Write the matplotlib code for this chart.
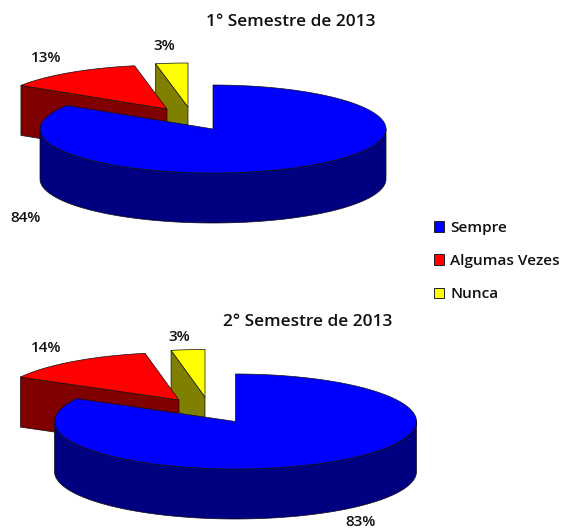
import numpy as np
import matplotlib
matplotlib.use("Agg")
import matplotlib.pyplot as plt
from matplotlib.patches import Polygon, Patch

plt.rcParams['font.family'] = ['Open Sans', 'DejaVu Sans']

categories = ["Sempre", "Algumas Vezes", "Nunca"]
title_1 = "1° Semestre de 2013"
title_2 = "2° Semestre de 2013"
values_1 = [84, 13, 3]
values_2 = [83, 14, 3]
colors_top = ["#0000FF", "#FF0000", "#FFFF00"]
colors_side = ["#000080", "#800000", "#808000"]

fig = plt.figure(figsize=(5.64, 5.29), dpi=100, facecolor="white")
ax = fig.add_axes([0, 0, 1, 1])
ax.set_xlim(0, 564)
ax.set_ylim(529, 0)
ax.axis("off")

FS = 11
FS_TITLE = 12.4
FS_LEGEND = 11.1
WEIGHT = "semibold"
EDGE = dict(edgecolor="#101010", linewidth=0.5, joinstyle="round")


def arc(c, rx, ry, a0, a1):
    t = np.radians(np.linspace(a0, a1, 120))
    return np.column_stack([c[0] + rx * np.sin(t), c[1] - ry * np.cos(t)])


def cut_wall(apex, rx, ry, angle, depth, color, z):
    outer = arc(apex, rx, ry, angle, angle)[0]
    pts = [apex, outer, (outer[0], outer[1] + depth), (apex[0], apex[1] + depth)]
    ax.add_patch(Polygon(pts, closed=True, facecolor=color, zorder=z, **EDGE))


def pie3d(values, center, apex_red, apex_yellow, rx, ry, depth):
    fr = np.cumsum(values) / np.sum(values) * 360
    a_blue, a_red, a_yellow = fr

    # exploded yellow slice (behind the red one)
    cut_wall(apex_yellow, rx, ry, a_red, depth, colors_side[2], 1)
    ax.add_patch(Polygon(np.vstack([[apex_yellow], arc(apex_yellow, rx, ry, a_red, a_yellow)]),
                         closed=True, facecolor=colors_top[2], zorder=2, **EDGE))
    # exploded red slice
    cut_wall(apex_red, rx, ry, a_blue, depth, colors_side[1], 3)
    ax.add_patch(Polygon(np.vstack([[apex_red], arc(apex_red, rx, ry, a_blue, a_red)]),
                         closed=True, facecolor=colors_top[1], zorder=4, **EDGE))
    # blue slice: rim, then top face
    upper = arc(center, rx, ry, 90, 270)
    lower = upper[::-1] + np.array([0, depth])
    ax.add_patch(Polygon(np.vstack([upper, lower]), closed=True,
                         facecolor=colors_side[0], zorder=5, **EDGE))
    ax.add_patch(Polygon(np.vstack([[center], arc(center, rx, ry, 0, a_blue)]),
                         closed=True, facecolor=colors_top[0], zorder=6, **EDGE))


pie3d(values_1, (213, 129), (167, 109), (188, 107), 173, 44, 50)
pie3d(values_2, (235.5, 421.5), (179, 400), (205, 397), 181, 47.5, 50)


def label(x, y, s, size=FS):
    ax.text(x, y, s, ha="center", va="center", fontsize=size, color="#111111", fontweight=WEIGHT, zorder=10)


label(291, 21.5, title_1, FS_TITLE)
label(308, 321.5, title_2, FS_TITLE)
for x, y, v in [(26, 218, values_1[0]), (46, 58, values_1[1]), (164, 46, values_1[2]),
                (361, 522, values_2[0]), (46, 348, values_2[1]), (179, 337, values_2[2])]:
    label(x, y, f"{v}%")

handles = [Patch(facecolor=c, edgecolor="#202020", linewidth=0.7) for c in colors_top]
leg = ax.legend(handles, categories, loc="upper left", bbox_to_anchor=(434, 221),
                bbox_transform=ax.transData, frameon=False, fontsize=FS_LEGEND,
                borderpad=0, borderaxespad=0, handlelength=0.68, handleheight=0.68,
                handletextpad=0.38, labelspacing=1.24, labelcolor="#111111")
for t in leg.get_texts():
    t.set_fontweight(WEIGHT)

fig.savefig("out.png", dpi=100)
